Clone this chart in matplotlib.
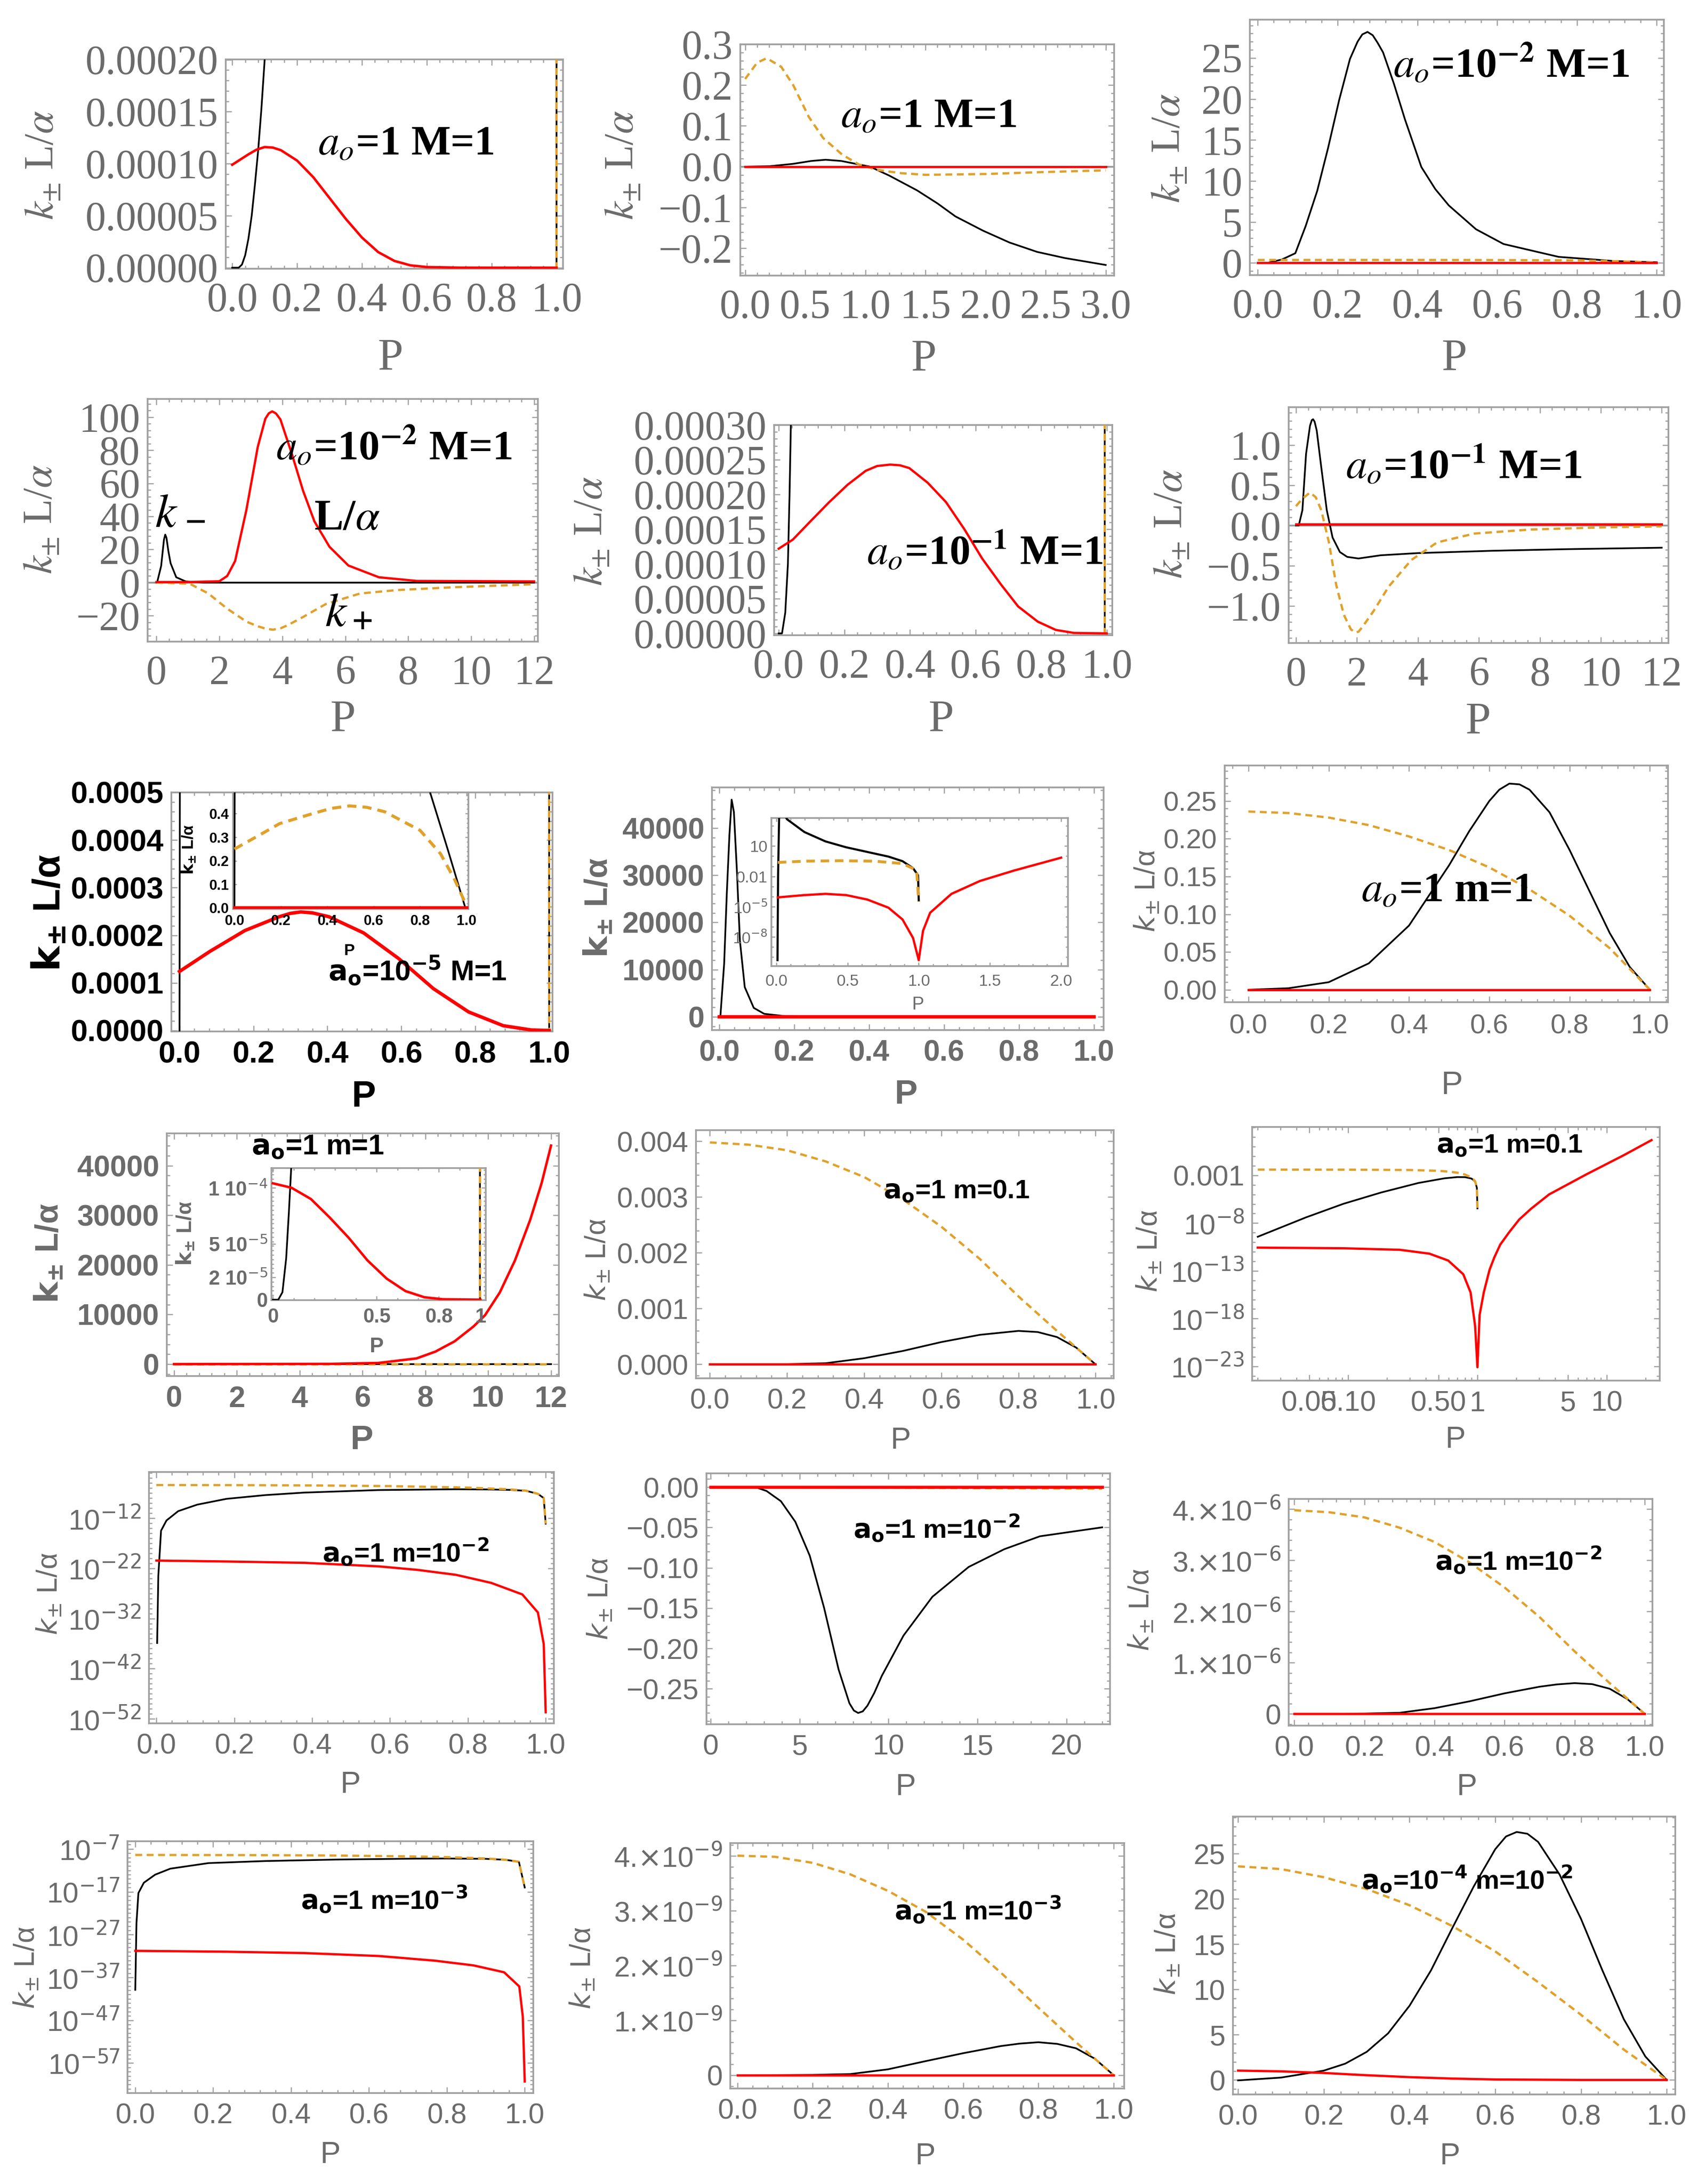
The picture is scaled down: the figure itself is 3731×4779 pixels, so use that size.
import numpy as np
import matplotlib
matplotlib.use("Agg")
import matplotlib.pyplot as plt
from matplotlib.ticker import AutoMinorLocator, LogLocator, NullFormatter

W, H, DPI = 3731, 4779, 300
BLACK, RED, ORANGE = "#000000", "#ff0000", "#e0a12b"
GRAY, FRAME = "#6b6b6b", "#a0a0a0"

# ---------------- data ----------------
# row 1 left: a_o=1 M=1
p1_black_P = [0.0, 0.02, 0.03, 0.04, 0.05, 0.06, 0.07, 0.08, 0.09, 0.10, 0.12, 0.5, 0.998, 1.0]
p1_black = [0.0, 0.0, 3e-6, 1.2e-5, 2.8e-5, 5e-5, 8e-5, 1.13e-4, 1.53e-4, 2e-4, 3.5e-4, 0.3, 0.01, 0.0]
p1_orange_P = [0.0, 0.5, 0.998, 1.0]
p1_orange = [0.25, 0.43, 0.01, 0.0]
p1_red_P = [0.0, 0.05, 0.075, 0.1, 0.125, 0.15, 0.2, 0.25, 0.3, 0.35, 0.4, 0.45, 0.5, 0.55, 0.6,
            0.7, 0.8, 1.0]
p1_red = [0.99e-4, 1.09e-4, 1.135e-4, 1.16e-4, 1.155e-4, 1.13e-4, 1.03e-4, 0.87e-4, 0.67e-4,
          0.47e-4, 0.29e-4, 0.15e-4, 0.065e-4, 0.022e-4, 0.006e-4, 0.0005e-4, 0.0, 0.0]

# row 1 middle: a_o=1 M=1, P up to 3
p2_black_P = [0.0, 0.2, 0.4, 0.55, 0.67, 0.8, 0.92, 1.04, 1.2, 1.43, 1.6, 1.75, 1.98, 2.2, 2.43, 2.66, 3.0]
p2_black = [0.0, 0.001, 0.007, 0.014, 0.017, 0.014, 0.007, 0.0, -0.022, -0.058, -0.09, -0.122,
            -0.157, -0.186, -0.209, -0.224, -0.241]
p2_orange_P = [0.0, 0.1, 0.18, 0.3, 0.4, 0.53, 0.65, 0.81, 0.95, 1.1, 1.3, 1.5, 2.0, 2.5, 3.0]
p2_orange = [0.215, 0.255, 0.266, 0.245, 0.2, 0.122, 0.07, 0.029, 0.005, -0.008, -0.016, -0.02,
             -0.018, -0.013, -0.009]
p2_red_P = [0.0, 3.0]
p2_red = [0.0, 0.0]

# row 1 right: a_o=1e-2 M=1
p3_black_P = [0.0, 0.025, 0.06, 0.094, 0.12, 0.149, 0.176, 0.204, 0.231, 0.25, 0.262, 0.275,
              0.288, 0.3, 0.314, 0.341, 0.369, 0.41, 0.445, 0.479, 0.547, 0.616, 0.754, 0.89, 1.0]
p3_black = [0.0, 0.0, 0.4, 1.17, 4.5, 8.8, 14.0, 19.9, 24.9, 27.0, 27.9, 28.2, 27.8, 26.9,
            25.7, 21.9, 17.5, 11.7, 9.0, 7.0, 4.1, 2.3, 0.73, 0.23, 0.06]
p3_orange_P = [0.0, 0.2, 0.4, 0.6, 0.8, 0.9, 1.0]
p3_orange = [0.35, 0.35, 0.35, 0.34, 0.3, 0.2, 0.0]
p3_red_P = [0.0, 1.0]
p3_red = [0.0, 0.0]

# row 2 left: a_o=1e-2 M=1, P up to 12
p4_black_P = [0.0, 0.03, 0.15, 0.24, 0.28, 0.32, 0.38, 0.45, 0.63, 0.93, 1.5, 12.0]
p4_black = [0.0, 0.7, 10.0, 26.0, 29.0, 27.0, 19.0, 11.7, 3.2, 0.7, 0.0, 0.0]
p4_orange_P = [0.0, 1.06, 1.65, 2.25, 2.86, 3.2, 3.46, 3.7, 3.95, 4.18, 4.66, 5.38, 6.47, 7.67, 9.48, 12.0]
p4_orange = [0.0, -0.7, -6.6, -15.8, -23.6, -26.3, -27.8, -28.5, -27.6, -25.7, -20.8, -13.0,
             -6.6, -4.5, -2.8, -1.0]
p4_red_P = [0.0, 1.0, 2.0, 2.25, 2.5, 2.86, 3.22, 3.46, 3.57, 3.68, 3.8, 3.94, 4.3, 4.66, 5.02,
            5.5, 6.1, 7.07, 8.27, 12.0]
p4_red = [0.3, 0.3, 0.8, 4.0, 13.0, 44.0, 82.0, 99.0, 102.3, 103.5, 102.2, 98.6, 78.0, 55.5,
          37.0, 21.6, 10.3, 3.2, 1.0, 0.7]

# row 2 middle: a_o=1e-1 M=1
p5_black_P = [0.0, 0.01, 0.02, 0.028, 0.033, 0.037, 0.5, 0.992, 0.994]
p5_black = [0.0, 0.0, 3e-5, 1e-4, 2e-4, 3e-4, 0.3, 0.01, 0.0]
p5_orange_P = [0.0, 0.5, 0.992, 0.994]
p5_orange = [0.25, 0.43, 0.01, 0.0]
p5_red_P = [0.0, 0.043, 0.098, 0.154, 0.21, 0.265, 0.3, 0.34, 0.37, 0.398, 0.454, 0.51, 0.566,
            0.62, 0.677, 0.73, 0.79, 0.845, 0.9, 1.0]
p5_red = [1.22e-4, 1.35e-4, 1.62e-4, 1.89e-4, 2.14e-4, 2.34e-4, 2.41e-4, 2.43e-4, 2.42e-4,
          2.38e-4, 2.17e-4, 1.89e-4, 1.5e-4, 1.08e-4, 0.708e-4, 0.388e-4, 0.169e-4, 0.05e-4,
          0.007e-4, 0.0]

# row 2 right: a_o=1e-1 M=1, P up to 12
p6_black_P = [0.0, 0.09, 0.21, 0.33, 0.46, 0.52, 0.56, 0.61, 0.68, 0.83, 1.01, 1.2, 1.44, 1.68,
              2.05, 2.78, 4.0, 6.45, 8.9, 12.0]
p6_black = [0.0, 0.0, 0.19, 0.89, 1.24, 1.31, 1.32, 1.29, 1.18, 0.72, 0.19, -0.15, -0.33, -0.39,
            -0.41, -0.37, -0.343, -0.314, -0.294, -0.276]
p6_orange_P = [0.0, 0.2, 0.46, 0.65, 0.83, 1.08, 1.32, 1.57, 1.8, 1.94, 2.05, 2.18, 2.55, 3.04,
               3.78, 4.63, 5.86, 7.7, 10.1, 12.0]
p6_orange = [0.24, 0.33, 0.41, 0.35, 0.19, -0.21, -0.74, -1.11, -1.29, -1.33, -1.32, -1.26,
             -1.06, -0.76, -0.43, -0.21, -0.1, -0.05, -0.023, -0.01]
p6_red_P = [0.0, 12.0]
p6_red = [0.015, 0.015]

# row 3 left: a_o=1e-5 M=1 (+ inset)
p7_black_P = [0.0, 0.002, 0.5, 0.998, 1.0]
p7_black = [0.0, 0.001, 0.3, 0.01, 0.0]
p7_orange_P = [0.0, 0.5, 0.998, 1.0]
p7_orange = [0.25, 0.43, 0.01, 0.0]
p7_red_P = [0.0, 0.082, 0.177, 0.27, 0.3, 0.328, 0.36, 0.404, 0.498, 0.593, 0.687, 0.782, 0.876,
            0.953, 1.0]
p7_red = [1.24e-4, 1.66e-4, 2.1e-4, 2.39e-4, 2.46e-4, 2.49e-4, 2.47e-4, 2.39e-4, 2.05e-4,
          1.51e-4, 0.878e-4, 0.39e-4, 0.1e-4, 0.01e-4, 0.0]
i7_black_P = [0.0, 0.004, 0.5, 0.843, 0.92, 0.995]
i7_black = [0.0, 2.0, 5.0, 0.49, 0.245, 0.0]
i7_orange_P = [0.0, 0.1, 0.195, 0.346, 0.42, 0.496, 0.57, 0.648, 0.8, 0.888, 0.949, 0.995]
i7_orange = [0.25, 0.305, 0.358, 0.403, 0.423, 0.433, 0.427, 0.408, 0.329, 0.23, 0.12, 0.02]
i7_red_P = [0.0, 1.0]
i7_red = [0.0, 0.0]

# row 3 middle: spike panel (+ log inset)
p8_black_P = [0.0, 0.003, 0.013, 0.02, 0.027, 0.033, 0.039, 0.047, 0.055, 0.068, 0.092, 0.12,
              0.176, 0.27, 1.0]
p8_black = [0, 150, 11260, 26000, 38400, 46000, 43400, 31000, 16200, 6300, 1900, 640, 150, 50, 0]
p8_orange_P = [0.0, 1.0]
p8_orange = [0.0, 0.0]
p8_red_P = [0.0, 1.0]
p8_red = [0.0, 0.0]
i8_black_P = [0.008, 0.012, 0.02, 0.033, 0.075, 0.197, 0.345, 0.49, 0.64, 0.787, 0.886, 0.96,
              0.995, 1.0]
i8_black = [5e-11, 1e-2, 2.6e4, 4.6e4, 4500, 245, 29, 7.6, 2.6, 0.91, 0.32, 0.065, 0.0126, 4e-5]
i8_orange_P = [0.01, 0.197, 0.443, 0.69, 0.886, 0.985, 1.0]
i8_orange = [0.24, 0.32, 0.355, 0.32, 0.186, 0.04, 3.2e-5]
i8_red_P = [0.01, 0.197, 0.345, 0.49, 0.64, 0.787, 0.886, 0.96, 1.0, 1.03, 1.08, 1.23, 1.43,
            1.67, 2.0]
i8_red = [8.3e-5, 1.4e-4, 1.86e-4, 1.4e-4, 5e-5, 7.9e-6, 5.4e-7, 7.9e-9, 5e-11, 4e-8, 2.5e-6,
          1.86e-4, 3.5e-3, 3.8e-2, 0.71]

# row 3 right: a_o=1 m=1
p9_black_P = [0.0, 0.1, 0.2, 0.3, 0.4, 0.5, 0.55, 0.6, 0.625, 0.65, 0.675, 0.7, 0.75, 0.8, 0.85,
              0.9, 0.95, 1.0]
p9_black = [0.0, 0.002, 0.01, 0.035, 0.085, 0.165, 0.21, 0.25, 0.265, 0.273, 0.272, 0.265, 0.235,
            0.185, 0.13, 0.075, 0.03, 0.0]
p9_orange_P = [0.0, 0.1, 0.2, 0.3, 0.4, 0.5, 0.6, 0.7, 0.8, 0.9, 1.0]
p9_orange = [0.236, 0.234, 0.228, 0.218, 0.203, 0.185, 0.162, 0.133, 0.098, 0.055, 0.0]
p9_red_P = [0.0, 1.0]
p9_red = [0.0, 0.0]

# row 4 left: a_o=1 m=1, P up to 12 (+ inset)
p10_black_P = [0.0, 12.0]
p10_black = [0.0, 0.0]
p10_orange_P = [0.0, 12.0]
p10_orange = [0.0, 0.0]
p10_red_P = [0.0, 5.0, 6.5, 7.72, 8.32, 8.93, 9.53, 9.9, 10.37, 10.85, 11.34, 11.7, 12.0]
p10_red = [0, 50, 230, 1150, 2520, 4590, 7570, 9860, 14450, 20870, 29130, 36470, 44040]
i10_black_P = [0.0, 0.026, 0.046, 0.064, 0.077, 0.088, 0.1, 0.5, 0.996, 0.998]
i10_black = [0.0, 0.0, 0.067e-4, 0.37e-4, 0.78e-4, 1.17e-4, 1.6e-4, 0.3, 0.01, 0.0]
i10_orange_P = [0.0, 0.5, 0.996, 0.998]
i10_orange = [0.25, 0.43, 0.01, 0.0]
i10_red_P = [0.0, 0.09, 0.183, 0.273, 0.365, 0.456, 0.548, 0.639, 0.73, 0.82, 1.0]
i10_red = [1.04e-4, 1.0e-4, 0.9e-4, 0.736e-4, 0.554e-4, 0.351e-4, 0.189e-4, 0.077e-4, 0.022e-4,
           0.004e-4, 0.0]

# row 4 middle: a_o=1 m=0.1
p11_black_P = [0.0, 0.1, 0.2, 0.3, 0.4, 0.5, 0.6, 0.7, 0.8, 0.85, 0.9, 0.95, 1.0]
p11_black = [0.0, 0.0, 0.000005, 0.00002, 0.00011, 0.00024, 0.0004, 0.00053, 0.0006, 0.00058,
             0.00049, 0.0003, 0.0]
p11_orange_P = [0.0, 0.1, 0.2, 0.3, 0.4, 0.5, 0.6, 0.7, 0.8, 0.9, 1.0]
p11_orange = [0.00398, 0.00394, 0.00384, 0.00364, 0.00336, 0.00296, 0.00247, 0.00189, 0.00122,
              0.0006, 0.0]
p11_red_P = [0.0, 1.0]
p11_red = [0.0, 0.0]

# row 4 right: a_o=1 m=0.1, log-log
p12_black_P = [0.02, 0.0473, 0.092, 0.18, 0.35, 0.557, 0.7, 0.8, 0.9, 0.96, 0.99, 1.0]
p12_black = [3.7e-10, 4e-8, 1.05e-6, 1.6e-5, 1.6e-4, 4.9e-4, 6.6e-4, 6.5e-4, 4.6e-4, 2.2e-4,
             5e-5, 3.5e-7]
p12_orange_P = [0.02, 0.1, 0.3, 0.5, 0.6, 0.7, 0.8, 0.9, 0.96, 0.99, 1.0]
p12_orange = [4.0e-3, 3.94e-3, 3.64e-3, 2.96e-3, 2.47e-3, 1.89e-3, 1.22e-3, 6.0e-4, 2.4e-4,
              5e-5, 3.5e-7]
p12_red_P = [0.02, 0.092, 0.251, 0.425, 0.594, 0.777, 0.885, 0.96, 1.0, 1.04, 1.12, 1.24, 1.35,
             1.5, 1.75, 2.1, 2.6, 3.58, 6.95, 13.5, 22.2]
p12_red = [2.7e-11, 2.3e-11, 1.6e-11, 6.3e-12, 1.2e-12, 4.4e-14, 5.5e-16, 1.6e-19, 8e-24,
           2.5e-18, 5.5e-16, 1.26e-13, 2.5e-12, 5.5e-11, 1.0e-9, 2.3e-8, 3.2e-7, 1e-5, 1.26e-3,
           0.126, 4.9]

# row 5 left: a_o=1 m=1e-2, log y
p13_black_P = [0.002, 0.005, 0.012, 0.026, 0.056, 0.105, 0.18, 0.28, 0.38, 0.57, 0.77, 0.86,
               0.91, 0.95, 0.98, 0.995, 1.0]
p13_black = [1.3e-37, 3.2e-24, 3.2e-15, 3.5e-13, 2.5e-11, 5.0e-10, 7.1e-9, 4.0e-8, 1.26e-7,
             4.0e-7, 5.8e-7, 5.2e-7, 4.3e-7, 2.8e-7, 7e-8, 1e-8, 8e-14]
p13_orange_P = [0.0, 0.2, 0.4, 0.6, 0.8, 0.9, 0.95, 0.98, 0.995, 1.0]
p13_orange = [4.0e-6, 3.84e-6, 3.36e-6, 2.47e-6, 1.22e-6, 6.0e-7, 3.0e-7, 7e-8, 1e-8, 8e-14]
p13_red_P = [0.0, 0.18, 0.38, 0.57, 0.67, 0.77, 0.86, 0.94, 0.98, 0.995, 1.0]
p13_red = [3.5e-21, 2.3e-21, 1.26e-21, 2.5e-22, 5e-23, 5e-24, 1.26e-25, 6.3e-28, 1.6e-31,
           7.9e-38, 2e-51]

# row 5 middle: a_o=1 m=1e-2, P up to 22
p14_black_P = [0.0, 2.5, 3.14, 3.95, 4.76, 5.57, 6.38, 7.19, 7.8, 8.05, 8.29, 8.55, 8.81, 9.2,
               9.62, 10.84, 12.46, 14.5, 16.5, 18.5, 22.0]
p14_black = [0.0, 0.0, -0.0048, -0.0175, -0.043, -0.085, -0.15, -0.226, -0.268, -0.277, -0.28,
             -0.278, -0.271, -0.255, -0.234, -0.184, -0.136, -0.099, -0.077, -0.061, -0.0499]
p14_orange_P = [0.0, 22.0]
p14_orange = [0.0, -0.002]
p14_red_P = [0.0, 22.0]
p14_red = [0.0, 0.0]

# row 5 right: a_o=1 m=1e-2
p15_black_P = [0.0, 0.1, 0.2, 0.3, 0.4, 0.5, 0.6, 0.7, 0.75, 0.8, 0.85, 0.9, 0.95, 1.0]
p15_black = [0.0, 0.001e-6, 0.005e-6, 0.02e-6, 0.11e-6, 0.244e-6, 0.4e-6, 0.53e-6, 0.575e-6,
             0.6e-6, 0.58e-6, 0.49e-6, 0.29e-6, 0.0]
p15_orange_P = [0.0, 0.1, 0.2, 0.3, 0.4, 0.5, 0.6, 0.7, 0.8, 0.9, 1.0]
p15_orange = [3.98e-6, 3.94e-6, 3.84e-6, 3.64e-6, 3.36e-6, 2.96e-6, 2.47e-6, 1.89e-6, 1.22e-6,
              0.6e-6, 0.0]
p15_red_P = [0.0, 1.0]
p15_red = [0.0, 0.0]

# row 6 left: a_o=1 m=1e-3, log y
p16_black_P = [0.0, 0.003, 0.008, 0.022, 0.051, 0.09, 0.188, 0.333, 0.528, 0.723, 0.8, 0.9,
               0.95, 0.985, 1.0]
p16_black = [1.3e-40, 4e-25, 5e-18, 1.3e-15, 1e-13, 2.5e-12, 5e-11, 1.5e-10, 3.5e-10, 5.5e-10,
             6e-10, 4.9e-10, 3e-10, 1e-10, 1e-16]
p16_orange_P = [0.0, 0.3, 0.5, 0.7, 0.8, 0.9, 0.95, 0.985, 1.0]
p16_orange = [4e-9, 3.66e-9, 2.98e-9, 1.87e-9, 1.23e-9, 6e-10, 3e-10, 1e-10, 1e-16]
p16_red_P = [0.0, 0.236, 0.431, 0.626, 0.771, 0.869, 0.947, 0.986, 0.995, 1.0]
p16_red = [1.6e-31, 1.0e-31, 5.0e-32, 1.0e-32, 7.9e-34, 6.3e-35, 1.6e-36, 7.9e-40, 7.9e-47, 5e-62]

# row 6 middle: a_o=1 m=1e-3
p17_black_P = [0.0, 0.1, 0.2, 0.3, 0.4, 0.5, 0.6, 0.7, 0.75, 0.8, 0.85, 0.9, 0.95, 1.0]
p17_black = [0.0, 0.001e-9, 0.005e-9, 0.02e-9, 0.106e-9, 0.255e-9, 0.4e-9, 0.53e-9, 0.575e-9,
             0.6e-9, 0.57e-9, 0.49e-9, 0.3e-9, 0.0]
p17_orange_P = [0.0, 0.1, 0.2, 0.3, 0.4, 0.5, 0.6, 0.7, 0.8, 0.9, 1.0]
p17_orange = [4.0e-9, 3.98e-9, 3.87e-9, 3.66e-9, 3.36e-9, 2.98e-9, 2.47e-9, 1.87e-9, 1.23e-9,
              0.6e-9, 0.0]
p17_red_P = [0.0, 1.0]
p17_red = [0.0, 0.0]

# row 6 right: a_o=1e-4 m=1e-2
p18_black_P = [0.0, 0.1, 0.2, 0.25, 0.3, 0.35, 0.4, 0.45, 0.5, 0.55, 0.6, 0.625, 0.65, 0.675,
               0.7, 0.75, 0.8, 0.85, 0.9, 0.95, 1.0]
p18_black = [-0.05, 0.26, 1.03, 1.8, 3.1, 5.15, 8.2, 12.1, 16.8, 21.4, 25.5, 26.9, 27.4, 27.2,
             26.3, 22.7, 17.8, 12.1, 6.7, 2.6, 0.0]
p18_orange_P = [0.0, 0.1, 0.2, 0.3, 0.4, 0.5, 0.6, 0.7, 0.8, 0.9, 1.0]
p18_orange = [23.6, 23.3, 22.4, 21.1, 19.3, 17.0, 14.2, 10.8, 7.2, 3.35, 0.0]
p18_red_P = [0.0, 0.1, 0.2, 0.3, 0.4, 0.5, 0.6, 0.8, 1.0]
p18_red = [1.03, 0.95, 0.77, 0.52, 0.31, 0.15, 0.05, 0.0, 0.0]

# tick values
x01 = [0.0, 0.2, 0.4, 0.6, 0.8, 1.0]
x012 = [0, 2, 4, 6, 8, 10, 12]
y_p1 = [0.0, 5e-5, 1e-4, 1.5e-4, 2e-4]
x_p2 = [0.0, 0.5, 1.0, 1.5, 2.0, 2.5, 3.0]
y_p2 = [-0.2, -0.1, 0.0, 0.1, 0.2, 0.3]
y_p3 = [0, 5, 10, 15, 20, 25]
y_p4 = [-20, 0, 20, 40, 60, 80, 100]
y_p5 = [0.0, 5e-5, 1e-4, 1.5e-4, 2e-4, 2.5e-4, 3e-4]
y_p6 = [-1.0, -0.5, 0.0, 0.5, 1.0]
y_p7 = [0.0, 1e-4, 2e-4, 3e-4, 4e-4, 5e-4]
y_i7 = [0.0, 0.1, 0.2, 0.3, 0.4]
y_p8 = [0, 10000, 20000, 30000, 40000]
x_i8 = [0.0, 0.5, 1.0, 1.5, 2.0]
y_i8 = [1e-8, 1e-5, 0.01, 10]
y_i8_lab = ["10$^{-8}$", "10$^{-5}$", "0.01", "10"]
y_p9 = [0.0, 0.05, 0.1, 0.15, 0.2, 0.25]
x_i10 = [0, 0.5, 0.8, 1]
x_i10_lab = ["0", "0.5", "0.8", "1"]
y_i10 = [0, 2e-5, 5e-5, 1e-4]
y_i10_lab = ["0", "2 10$^{-5}$", "5 10$^{-5}$", "1 10$^{-4}$"]
y_p11 = [0.0, 0.001, 0.002, 0.003, 0.004]
x_p12 = [0.05, 0.1, 0.5, 1, 5, 10]
x_p12_lab = ["0.05", "0.10", "0.50", "1", "5", "10"]
y_p12 = [1e-23, 1e-18, 1e-13, 1e-8, 1e-3]
y_p12_lab = ["10$^{-23}$", "10$^{-18}$", "10$^{-13}$", "10$^{-8}$", "0.001"]
y_p13 = [1e-52, 1e-42, 1e-32, 1e-22, 1e-12]
y_p13_lab = ["10$^{-52}$", "10$^{-42}$", "10$^{-32}$", "10$^{-22}$", "10$^{-12}$"]
x_p14 = [0, 5, 10, 15, 20]
y_p14 = [-0.25, -0.2, -0.15, -0.1, -0.05, 0.0]
y_p15 = [0, 1e-6, 2e-6, 3e-6, 4e-6]
y_p15_lab = ["0", r"1.$\times$10$^{-6}$", r"2.$\times$10$^{-6}$", r"3.$\times$10$^{-6}$",
             r"4.$\times$10$^{-6}$"]
y_p16 = [1e-57, 1e-47, 1e-37, 1e-27, 1e-17, 1e-7]
y_p16_lab = ["10$^{-57}$", "10$^{-47}$", "10$^{-37}$", "10$^{-27}$", "10$^{-17}$", "10$^{-7}$"]
y_p17 = [0, 1e-9, 2e-9, 3e-9, 4e-9]
y_p17_lab = ["0", r"1.$\times$10$^{-9}$", r"2.$\times$10$^{-9}$", r"3.$\times$10$^{-9}$",
             r"4.$\times$10$^{-9}$"]
y_p18 = [0, 5, 10, 15, 20, 25]

# ---------------- styles ----------------
SERIF = dict(fontfamily="Liberation Serif", fontsize=21.5, color=GRAY, math_fontfamily="stix")
SANS = dict(fontfamily="Liberation Sans", fontsize=15, color=GRAY, math_fontfamily="dejavusans")
BK = dict(fontfamily="Liberation Sans", fontsize=16, color="black", fontweight="bold",
          math_fontfamily="dejavusans")
BG = dict(fontfamily="Liberation Sans", fontsize=15.5, color=GRAY, fontweight="bold",
          math_fontfamily="dejavusans")
YL_SERIF = r"$k_{\pm}$ L/$\alpha$"
YL_SANS = r"$k_{\pm}$ L/α"
YL_BOLD = r"$\mathbf{k_{\pm}}$ L/α"


def lab(ticks, fmt):
    return [(fmt % t).replace("-", "\u2212") for t in ticks]


def font(base, **kw):
    d = dict(base)
    d.update(kw)
    return d


fig = plt.figure(figsize=(W / DPI, H / DPI), dpi=DPI, facecolor="white")


def add(x0, x1, y0, y1):
    return fig.add_axes([x0 / W, 1 - y1 / H, (x1 - x0) / W, (y1 - y0) / H])


def setup(ax, xlim, ylim, xt, xl, yt, yl, f, xlog=False, ylog=False, tl=3.2, pad=(6, 4)):
    if xlog:
        ax.set_xscale("log")
    if ylog:
        ax.set_yscale("log")
    ax.set_xticks(xt, xl, **f)
    ax.set_yticks(yt, yl, **f)
    ax.set_xlim(xlim)
    ax.set_ylim(ylim)
    if xlog:
        ax.xaxis.set_minor_locator(LogLocator(base=10, subs=np.arange(2, 10), numticks=100))
    else:
        ax.xaxis.set_minor_locator(AutoMinorLocator(5))
    if ylog:
        ax.yaxis.set_minor_locator(LogLocator(base=10, subs=(1.0,), numticks=200))
    else:
        ax.yaxis.set_minor_locator(AutoMinorLocator(5))
    ax.xaxis.set_minor_formatter(NullFormatter())
    ax.yaxis.set_minor_formatter(NullFormatter())
    ax.tick_params(which="both", direction="in", top=True, right=True, color=FRAME, width=0.6)
    ax.tick_params(which="major", length=tl)
    ax.tick_params(which="minor", length=tl * 0.55)
    ax.tick_params(axis="x", which="major", pad=pad[0])
    ax.tick_params(axis="y", which="major", pad=pad[1])
    for s in ax.spines.values():
        s.set_color(FRAME)
        s.set_linewidth(0.9)


def curves(ax, black, orange, red, lwb=0.9, lwo=1.2, lwr=1.2):
    ax.plot(black[0], black[1], color=BLACK, lw=lwb, zorder=3)
    ax.plot(orange[0], orange[1], color=ORANGE, lw=lwo, ls=(0, (3, 2)), zorder=4)
    ax.plot(red[0], red[1], color=RED, lw=lwr, zorder=5)


def names(ax, f, ytext, xpos, ypos, xsize=None, ysize=None):
    fx = font(f, fontsize=xsize or f["fontsize"])
    fy = font(f, fontsize=ysize or f["fontsize"])
    ax.set_xlabel("P", va="center", ha="center", **fx)
    ax.set_ylabel(ytext, va="center", ha="center", **fy)
    ax.xaxis.set_label_coords(*xpos)
    ax.yaxis.set_label_coords(*ypos)


def note(x, y, s, serif=True, size=None):
    if serif:
        fig.text(x / W, 1 - y / H, s, ha="center", va="center", fontfamily="Liberation Serif",
                 fontweight="bold", fontsize=size or 22, math_fontfamily="stix", color="black")
    else:
        fig.text(x / W, 1 - y / H, s, ha="center", va="center", fontfamily="Liberation Sans",
                 fontweight="bold", fontsize=size or 14, math_fontfamily="dejavusans",
                 color="black")


def zero_axis(ax):
    ax.axhline(0.0, color="#8c8c8c", lw=0.9, zorder=1)


# ---------------- row 1 ----------------
ax = add(494, 1232, 130, 588)
curves(ax, (p1_black_P, p1_black), (p1_orange_P, p1_orange), (p1_red_P, p1_red), lwr=1.3)
setup(ax, (-0.02, 1.02), (-1e-6, 2.003e-4), x01, lab(x01, "%.1f"), y_p1, lab(y_p1, "%.5f"),
      SERIF, pad=(7, 4))
names(ax, SERIF, YL_SERIF, (0.488, -0.428), (-0.542, 0.496), xsize=24)
note(888, 316, r"$a_o$=1 M=1")

ax = add(1620, 2438, 97, 603)
zero_axis(ax)
curves(ax, (p2_black_P, p2_black), (p2_orange_P, p2_orange), (p2_red_P, p2_red))
setup(ax, (-0.04, 3.07), (-0.267, 0.300), x_p2, lab(x_p2, "%.1f"), y_p2, lab(y_p2, "%.1f"),
      SERIF, pad=(7, 4))
names(ax, SERIF, YL_SERIF, (0.49, -0.362), (-0.314, 0.478), xsize=24)
note(2032, 256, r"$a_o$=1 M=1")

ax = add(2735, 3641, 43, 602)
curves(ax, (p3_black_P, p3_black), (p3_orange_P, p3_orange), (p3_red_P, p3_red))
setup(ax, (-0.02, 1.018), (-1.5, 29.7), x01, lab(x01, "%.1f"), y_p3, lab(y_p3, "%d"),
      SERIF, pad=(7, 4))
names(ax, SERIF, YL_SERIF, (0.493, -0.327), (-0.195, 0.497), xsize=24)
note(3307, 141, r"$a_o$=10$^{\mathbf{-2}}$ M=1")

# ---------------- row 2 ----------------
ax = add(323, 1177, 873, 1404)
zero_axis(ax)
curves(ax, (p4_black_P, p4_black), (p4_orange_P, p4_orange), (p4_red_P, p4_red))
setup(ax, (-0.28, 12.12), (-35.7, 111), x012, lab(x012, "%d"), y_p4, lab(y_p4, "%d"),
      SERIF, pad=(7, 4))
names(ax, SERIF, YL_SERIF, (0.5, -0.322), (-0.272, 0.505), xsize=24)
note(862, 978, r"$a_o$=10$^{\mathbf{-2}}$ M=1")
note(364, 1128, r"$k$", size=25)
note(428, 1150, "\u2212", size=20)
note(736, 1345, r"$k$", size=25)
note(793, 1366, "+", size=20)
note(760, 1136, r"L/$\alpha$", size=23)

ax = add(1694, 2434, 930, 1390)
curves(ax, (p5_black_P, p5_black), (p5_orange_P, p5_orange), (p5_red_P, p5_red))
setup(ax, (-0.014, 1.017), (-2.6e-6, 3.0e-4), x01, lab(x01, "%.1f"), y_p5, lab(y_p5, "%.5f"),
      SERIF, pad=(7, 4))
names(ax, SERIF, YL_SERIF, (0.493, -0.402), (-0.54, 0.496), xsize=24)
note(2155, 1207, r"$a_o$=10$^{\mathbf{-1}}$ M=1")

ax = add(2820, 3651, 891, 1407)
zero_axis(ax)
curves(ax, (p6_black_P, p6_black), (p6_orange_P, p6_orange), (p6_red_P, p6_red))
setup(ax, (-0.24, 12.22), (-1.46, 1.47), x012, lab(x012, "%d"), y_p6, lab(y_p6, "%.1f"),
      SERIF, pad=(7, 4))
names(ax, SERIF, YL_SERIF, (0.498, -0.335), (-0.308, 0.506), xsize=24)
note(3203, 1019, r"$a_o$=10$^{\mathbf{-1}}$ M=1")

# ---------------- row 3 ----------------
ax = add(375, 1209, 1734, 2257)
curves(ax, (p7_black_P, p7_black), (p7_orange_P, p7_orange), (p7_red_P, p7_red), lwr=1.8)
setup(ax, (-0.022, 1.009), (-2e-6, 5.0e-4), x01, lab(x01, "%.1f"), y_p7, lab(y_p7, "%.4f"),
      BK, pad=(5, 4))
names(ax, BK, YL_BOLD, (0.505, -0.273), (-0.321, 0.497), xsize=19, ysize=20)
note(913, 2124, r"$\mathbf{a_o}$=10$^{\mathbf{-5}}$ M=1", serif=False, size=15)

ax = add(510, 1025, 1734, 1989)
curves(ax, (i7_black_P, i7_black), (i7_orange_P, i7_orange), (i7_red_P, i7_red), lwo=1.6, lwr=2.0)
setup(ax, (-0.006, 1.008), (-0.004, 0.49), x01, lab(x01, "%.1f"), y_i7, lab(y_i7, "%.1f"),
      font(BK, fontsize=7.5), tl=1.8, pad=(3, 2))
names(ax, font(BK, fontsize=8.5), YL_BOLD, (0.495, -0.36), (-0.19, 0.51))

ax = add(1558, 2415, 1723, 2254)
curves(ax, (p8_black_P, p8_black), (p8_orange_P, p8_orange), (p8_red_P, p8_red), lwr=1.8)
setup(ax, (-0.0195, 1.026), (-2800, 48600), x01, lab(x01, "%.1f"), y_p8, lab(y_p8, "%d"),
      BG, pad=(5, 4))
names(ax, BG, YL_BOLD, (0.496, -0.266), (-0.29, 0.503), xsize=18, ysize=17)

ax = add(1688, 2337, 1790, 2114)
curves(ax, (i8_black_P, i8_black), (i8_orange_P, i8_orange), (i8_red_P, i8_red), lwb=1.1, lwo=1.5)
setup(ax, (-0.035, 2.048), (1.3e-11, 6e3), x_i8, lab(x_i8, "%.1f"), y_i8, y_i8_lab,
      font(SANS, fontsize=8.5), ylog=True, tl=2.0, pad=(4, 2))
ax.set_xlabel("P", **font(SANS, fontsize=9.5))
ax.xaxis.set_label_coords(0.495, -0.2)

ax = add(2680, 3650, 1675, 2193)
curves(ax, (p9_black_P, p9_black), (p9_orange_P, p9_orange), (p9_red_P, p9_red))
setup(ax, (-0.059, 1.045), (-0.0165, 0.297), x01, lab(x01, "%.1f"), y_p9, lab(y_p9, "%.2f"),
      font(SANS, fontsize=14.5), pad=(6, 4))
names(ax, font(SANS, fontsize=15), YL_SANS, (0.512, -0.353), (-0.175, 0.469), xsize=17)
note(3166, 1950, r"$a_o$=1 m=1")

# ---------------- row 4 ----------------
ax = add(365, 1223, 2480, 3011)
curves(ax, (p10_black_P, p10_black), (p10_orange_P, p10_orange), (p10_red_P, p10_red), lwr=1.3)
setup(ax, (-0.23, 12.25), (-2400, 46500), x012, lab(x012, "%d"), y_p8, lab(y_p8, "%d"),
      BG, pad=(5, 4))
names(ax, BG, YL_BOLD, (0.498, -0.264), (-0.3, 0.505), xsize=18, ysize=17)
note(695, 2510, r"$\mathbf{a_o}$=1 m=1", serif=False, size=15)

ax = add(594, 1063, 2556, 2845)
curves(ax, (i10_black_P, i10_black), (i10_orange_P, i10_orange), (i10_red_P, i10_red), lwr=1.3)
setup(ax, (-0.007, 1.026), (-4e-7, 1.176e-4), x_i10, x_i10_lab, y_i10, y_i10_lab,
      font(BG, fontsize=10.5), tl=2.2, pad=(4, 2))
names(ax, font(BG, fontsize=11), YL_BOLD, (0.49, -0.353), (-0.40, 0.505))

ax = add(1523, 2437, 2473, 3016)
curves(ax, (p11_black_P, p11_black), (p11_orange_P, p11_orange), (p11_red_P, p11_red))
setup(ax, (-0.036, 1.047), (-0.00025, 0.0042), x01, lab(x01, "%.1f"), y_p11,
      lab(y_p11, "%.3f"), SANS, pad=(5, 4))
names(ax, SANS, YL_SANS, (0.49, -0.252), (-0.235, 0.477), xsize=16)
note(2093, 2607, r"$\mathbf{a_o}$=1 m=0.1", serif=False)

ax = add(2740, 3632, 2466, 3021)
curves(ax, (p12_black_P, p12_black), (p12_orange_P, p12_orange), (p12_red_P, p12_red))
setup(ax, (0.0181, 25.7), (3.2e-25, 117), x_p12, x_p12_lab, y_p12, y_p12_lab, SANS,
      xlog=True, ylog=True, pad=(5, 4))
names(ax, SANS, YL_SANS, (0.499, -0.234), (-0.252, 0.51), xsize=16)
note(3303, 2507, r"$\mathbf{a_o}$=1 m=0.1", serif=False)

# ---------------- row 5 ----------------
ax = add(326, 1212, 3221, 3771)
curves(ax, (p13_black_P, p13_black), (p13_orange_P, p13_orange), (p13_red_P, p13_red))
setup(ax, (-0.019, 1.021), (1.26e-53, 1.6e-3), x01, lab(x01, "%.1f"), y_p13, y_p13_lab,
      SANS, ylog=True, pad=(5, 4))
names(ax, SANS, YL_SANS, (0.498, -0.245), (-0.246, 0.515), xsize=16)
note(887, 3396, r"$\mathbf{a_o}$=1 m=10$^{\mathbf{-2}}$", serif=False)

ax = add(1546, 2429, 3224, 3773)
curves(ax, (p14_black_P, p14_black), (p14_orange_P, p14_orange), (p14_red_P, p14_red), lwr=1.6)
setup(ax, (-0.23, 22.44), (-0.294, 0.017), x_p14, lab(x_p14, "%d"), y_p14, lab(y_p14, "%.2f"),
      SANS, pad=(5, 4))
names(ax, SANS, YL_SANS, (0.493, -0.251), (-0.264, 0.5), xsize=16)
note(2049, 3344, r"$\mathbf{a_o}$=1 m=10$^{\mathbf{-2}}$", serif=False)

ax = add(2820, 3616, 3280, 3776)
curves(ax, (p15_black_P, p15_black), (p15_orange_P, p15_orange), (p15_red_P, p15_red))
setup(ax, (-0.016, 1.022), (-2.31e-7, 4.2e-6), x01, lab(x01, "%.1f"), y_p15, y_p15_lab,
      SANS, pad=(5, 4))
names(ax, SANS, YL_SANS, (0.49, -0.272), (-0.405, 0.51), xsize=16)
note(3322, 3414, r"$\mathbf{a_o}$=1 m=10$^{\mathbf{-2}}$", serif=False)

# ---------------- row 6 ----------------
ax = add(279, 1167, 4029, 4580)
curves(ax, (p16_black_P, p16_black), (p16_orange_P, p16_orange), (p16_red_P, p16_red))
setup(ax, (-0.02, 1.022), (1e-64, 6.3e-6), x01, lab(x01, "%.1f"), y_p16, y_p16_lab,
      SANS, ylog=True, pad=(5, 4))
names(ax, SANS, YL_SANS, (0.5, -0.247), (-0.249, 0.497), xsize=16)
note(841, 4156, r"$\mathbf{a_o}$=1 m=10$^{\mathbf{-3}}$", serif=False)

ax = add(1598, 2460, 4033, 4570)
curves(ax, (p17_black_P, p17_black), (p17_orange_P, p17_orange), (p17_red_P, p17_red))
setup(ax, (-0.019, 1.028), (-2.43e-10, 4.23e-9), x01, lab(x01, "%.1f"), y_p17, y_p17_lab,
      SANS, pad=(5, 4))
names(ax, SANS, YL_SANS, (0.495, -0.277), (-0.375, 0.49), xsize=16)
note(2140, 4179, r"$\mathbf{a_o}$=1 m=10$^{\mathbf{-3}}$", serif=False)

ax = add(2698, 3666, 3975, 4583)
curves(ax, (p18_black_P, p18_black), (p18_orange_P, p18_orange), (p18_red_P, p18_red))
setup(ax, (-0.012, 1.02), (-1.6, 29.1), x01, lab(x01, "%.1f"), y_p18, lab(y_p18, "%d"),
      SANS, pad=(5, 4))
names(ax, SANS, YL_SANS, (0.49, -0.224), (-0.148, 0.505), xsize=16)
note(3210, 4112, r"$\mathbf{a_o}$=10$^{\mathbf{-4}}$ m=10$^{\mathbf{-2}}$", serif=False)

fig.savefig("out.png", dpi=DPI, facecolor="white")
